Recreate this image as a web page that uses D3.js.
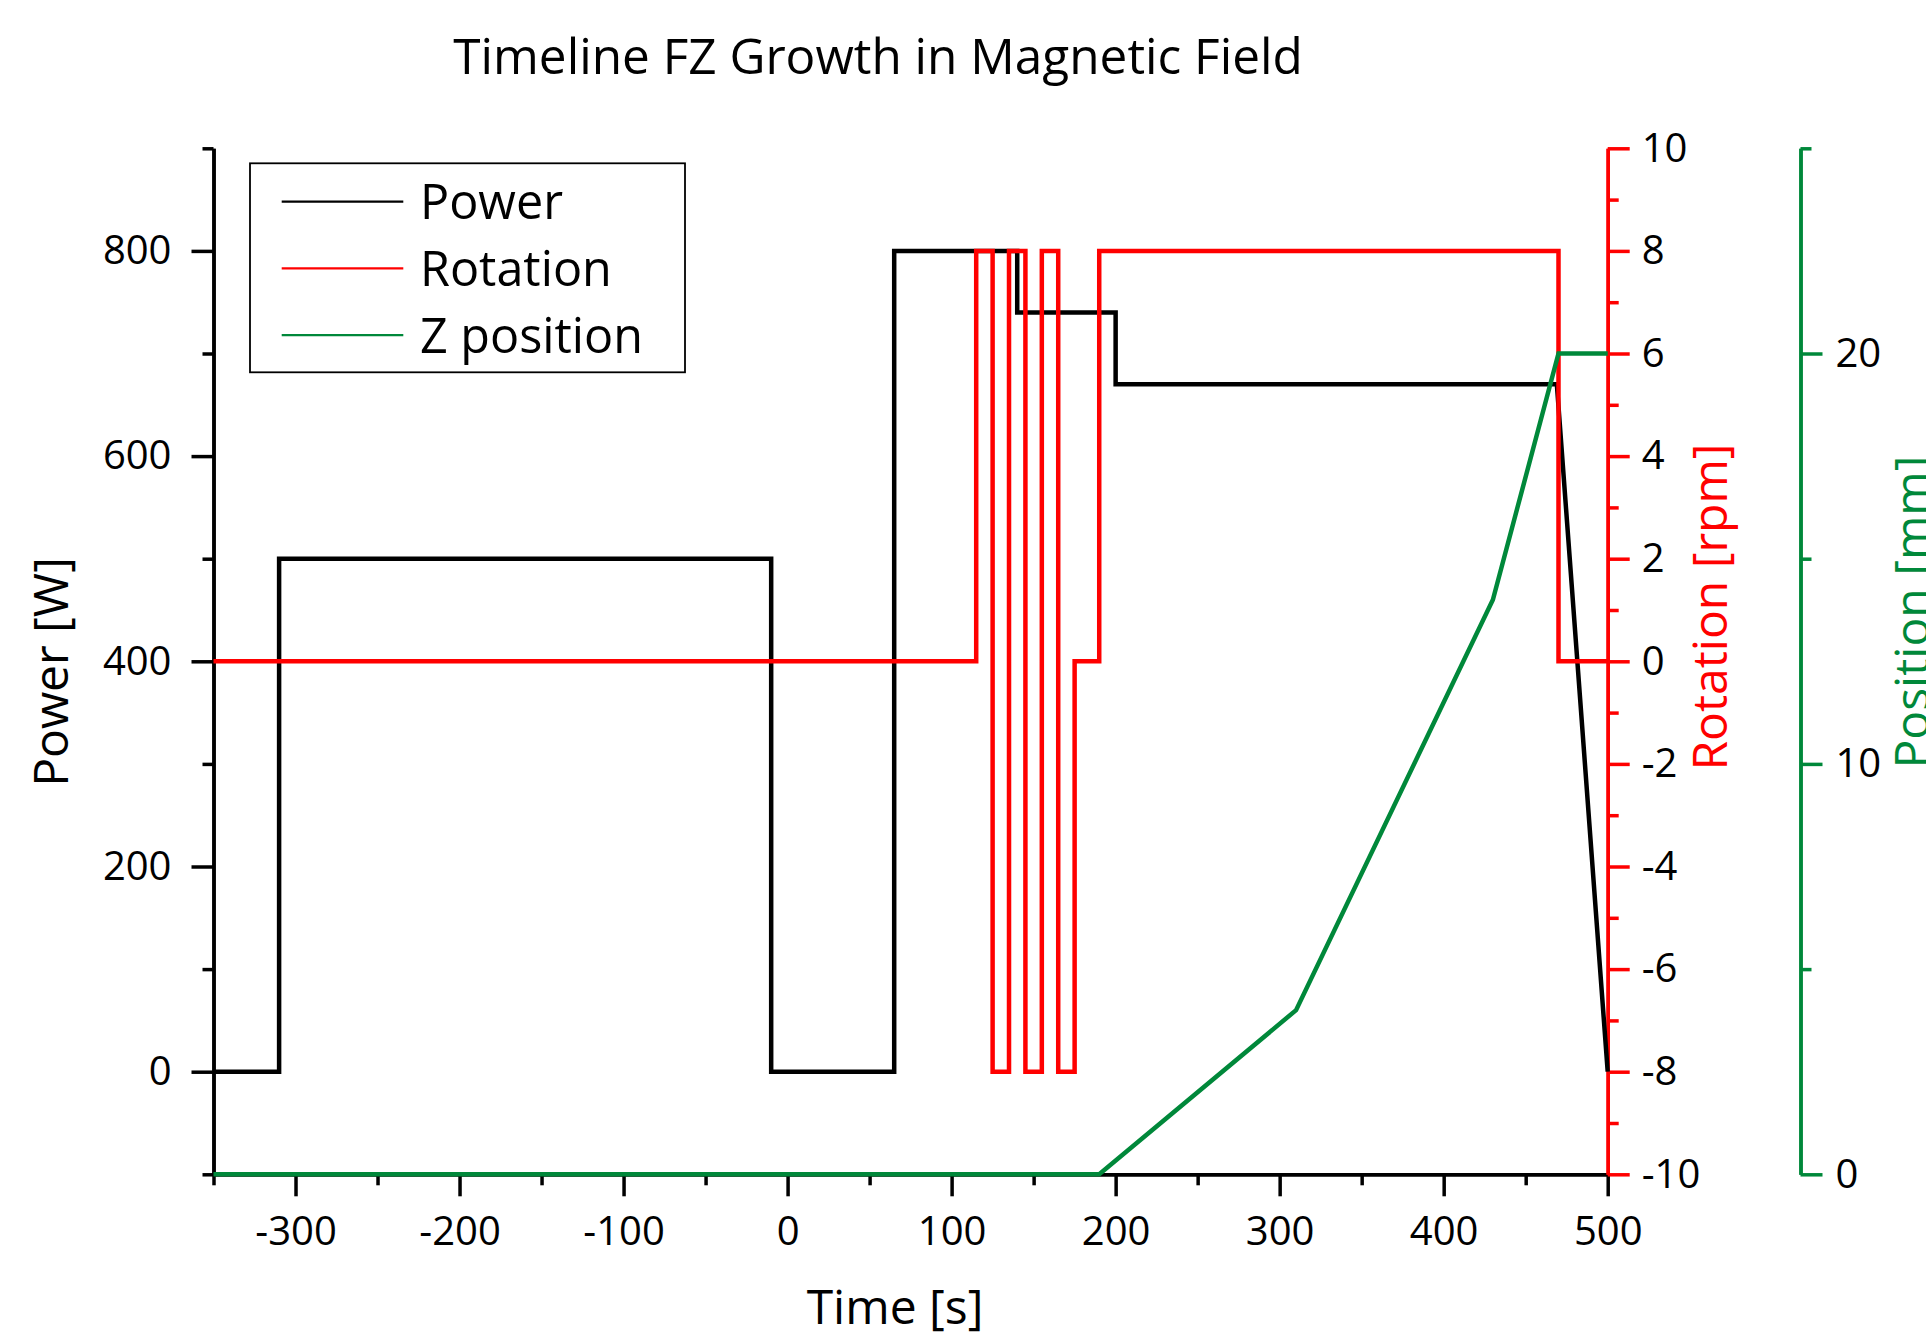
<!DOCTYPE html>
<html>
<head>
<meta charset="utf-8">
<script src="https://cdn.jsdelivr.net/npm/d3@7"></script>
<style>
body { margin: 0; background: #fff; }
svg { display: block; font-family: "Open Sans", sans-serif; }
</style>
</head>
<body>
<div id="vis"></div>
<script>
var w = 1926,
    h = 1340;

// power [W] vs time [s]
var powerTime = [-350, -310, -310, -10, -10, 65, 65, 140, 140, 200, 200, 469, 500];
var powerVal  = [0, 0, 500, 500, 0, 0, 800, 800, 740, 740, 670, 670, 0];
// rotation [rpm], step changes
var rotTime = [-350, 115, 115, 125, 125, 135, 135, 145, 145, 155, 155, 165, 165, 175, 175, 190, 190, 470, 470, 500];
var rotVal  = [0, 0, 8, 8, -8, -8, 8, 8, -8, -8, 8, 8, -8, -8, 0, 0, 8, 8, 0, 0];
// z position [mm]
var zTime = [-350, 190, 310, 430, 470, 500];
var zVal  = [0, 0, 4, 14, 20, 20];

var xMajor = [-300, -200, -100, 0, 100, 200, 300, 400, 500];
var xMinor = [-350, -250, -150, -50, 50, 150, 250, 350, 450];
var pMajor = [0, 200, 400, 600, 800];
var pMinor = [-100, 100, 300, 500, 700, 900];
var rMajor = [-10, -8, -6, -4, -2, 0, 2, 4, 6, 8, 10];
var rMinor = [-9, -7, -5, -3, -1, 1, 3, 5, 7, 9];
var zMajor = [0, 10, 20];
var zMinor = [5, 15, 25];

var seriesNames = ["Power", "Rotation", "Z position"];
var colors = ["#000000", "#ff0000", "#00883a"];

var plotL = 213.5, plotR = 1607.7, plotT = 148.3, plotB = 1174.3, zAxisX = 1800.5;

var x = d3.scaleLinear().domain([-350, 500]).range([plotL, plotR]);
var yP = d3.scaleLinear().domain([-100, 900]).range([plotB, plotT]);
var yR = d3.scaleLinear().domain([-10, 10]).range([plotB, plotT]);
var yZ = d3.scaleLinear().domain([0, 25]).range([plotB, plotT]);

var svg = d3.select("#vis").append("svg")
    .attr("width", w)
    .attr("height", h);

var styleAxis = function(g, color){
    g.selectAll("path.domain").attr("stroke", color).attr("stroke-width", 3.5);
    g.selectAll(".tick line").attr("stroke", color).attr("stroke-width", 3.5);
    g.selectAll(".tick text").attr("fill", "#000").style("font-size", "40px")
        .style("font-family", "'Open Sans', sans-serif");
};

var drawAxis = function(axisFn, scale, major, minor, pos, color, pad){
    var gMin = svg.append("g").attr("transform", pos);
    gMin.call(axisFn(scale).tickValues(minor).tickSize(11).tickSizeOuter(0).tickFormat(""));
    styleAxis(gMin, color);
    var gMaj = svg.append("g").attr("transform", pos);
    gMaj.call(axisFn(scale).tickValues(major).tickSize(22).tickSizeOuter(0).tickPadding(pad)
        .tickFormat(function(d){ return String(d); }));
    styleAxis(gMaj, color);
    return gMaj;
};

drawAxis(d3.axisBottom, x, xMajor, xMinor, "translate(0," + plotB + ")", "#000", 20);
drawAxis(d3.axisLeft, yP, pMajor, pMinor, "translate(" + plotL + ",0)", "#000", 20);
drawAxis(d3.axisRight, yR, rMajor, rMinor, "translate(" + plotR + ",0)", colors[1], 12);
drawAxis(d3.axisRight, yZ, zMajor, zMinor, "translate(" + zAxisX + ",0)", colors[2], 13);

// data lines
var line = d3.line();
var toPts = function(ts, vs, ys){
    return ts.map(function(t, i){ return [x(t), ys(vs[i])]; });
};
var lines = [toPts(powerTime, powerVal, yP), toPts(rotTime, rotVal, yR), toPts(zTime, zVal, yZ)];

svg.selectAll("path.series")
    .data(lines)
    .enter().append("path")
    .attr("class", "series")
    .attr("d", line)
    .attr("fill", "none")
    .attr("stroke", function(d, i){ return colors[i]; })
    .attr("stroke-width", 4.5)
    .attr("stroke-linejoin", "miter");

// title + axis titles
svg.append("text")
    .attr("x", 878).attr("y", 74)
    .attr("text-anchor", "middle")
    .style("font-size", "49.5px")
    .text("Timeline FZ Growth in Magnetic Field");

svg.append("text")
    .attr("x", 895).attr("y", 1324)
    .attr("text-anchor", "middle")
    .style("font-size", "48px")
    .text("Time [s]");

svg.append("text")
    .attr("transform", "translate(68,672) rotate(-90)")
    .attr("text-anchor", "middle")
    .style("font-size", "48px")
    .text("Power [W]");

svg.append("text")
    .attr("transform", "translate(1727,607) rotate(-90)")
    .attr("text-anchor", "middle")
    .attr("fill", colors[1])
    .style("font-size", "48px")
    .text("Rotation [rpm]");

svg.append("text")
    .attr("transform", "translate(1929,612) rotate(-90)")
    .attr("text-anchor", "middle")
    .attr("fill", colors[2])
    .style("font-size", "48px")
    .text("Position [mm]");

// legend
var lg = svg.append("g");
lg.append("rect")
    .attr("x", 250).attr("y", 163.3)
    .attr("width", 435).attr("height", 209)
    .attr("fill", "#fff")
    .attr("stroke", "#000")
    .attr("stroke-width", 1.8);

var items = lg.selectAll("g.item")
    .data(seriesNames)
    .enter().append("g")
    .attr("class", "item")
    .attr("transform", function(d, i){ return "translate(0," + (201.7 + i * 66.7) + ")"; });
items.append("line")
    .attr("x1", 281.7).attr("x2", 403.3)
    .attr("stroke", function(d, i){ return colors[i]; })
    .attr("stroke-width", 2.2);
items.append("text")
    .attr("x", 420).attr("dy", "0.36em")
    .style("font-size", "48.5px")
    .text(function(d){ return d; });
</script>
</body>
</html>
